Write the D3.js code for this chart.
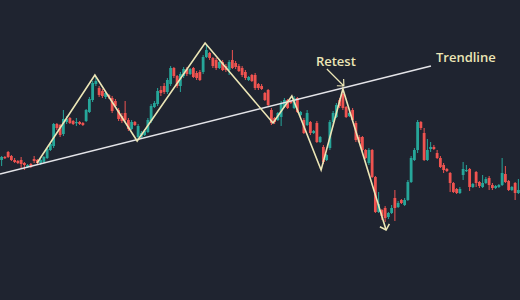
<!DOCTYPE html>
<html>
<head>
<meta charset="utf-8">
<script src="https://cdn.jsdelivr.net/npm/d3@7"></script>
<style>
  html, body { margin: 0; padding: 0; background: #1f2430; }
  svg { display: block; }
</style>
</head>
<body>
<script>
var width = 520, height = 300;

// candle data, one entry per bar
var open = [140,143,148,144,140,139,140,137,133,136, 141,140,137,138,142,150,154,176,175,166,
  178,182,179,177,178,177,179,188,200,216, 212,209,203,205,202,199,190,184,187,180,
  171,178,163,163,165,168,179,193,196,210, 214,208,216,232,224,214,224,231,226,232,
  227,228,228,243,247,242,240,232,238,234, 230,240,237,234,232,228,220,225,225,216,
  214,207,210,190,182,180,183,193,200,199, 192,202,185,180,175,178,167,177,158,153,
  140,152,178,183,200,206,193,184,190,177, 163,163,150,137,150,123,88,90,92,83,
  87,102,93,100,95,100,118,140,150,178, 167,140,151,153,147,142,135,131,127,117,
  111,107,125,129,131,113,128,118,113,117, 122,115,112,113,115,126,119,110,117,107];
var high = [144,144,149,145,142,140,143,138,136,137, 144,141,141,144,152,158,177,177,176,190,
  184,183,180,182,179,178,191,203,219,223, 214,211,208,206,204,201,192,187,199,182,
  180,179,176,169,171,182,196,199,212,214, 217,222,234,233,225,228,233,233,232,233,
  229,230,245,256,248,243,242,240,240,236, 240,250,239,236,234,230,224,226,227,217,
  216,208,211,192,183,188,199,202,201,200, 204,203,189,182,190,179,170,179,164,155,
  146,180,189,197,202,211,194,188,192,179, 165,164,151,152,151,124,108,91,94,88,
  95,110,99,101,102,120,144,152,180,179, 172,161,158,155,150,144,137,132,128,118,
  112,113,138,135,132,117,129,119,125,123, 124,117,115,116,142,134,120,114,118,121];
var low = [134,141,142,139,137,136,132,130,132,132, 137,136,135,137,141,149,152,170,163,164,
  176,176,175,174,175,174,178,187,198,214, 203,202,201,201,187,192,179,177,178,169,
  170,174,161,162,164,167,177,192,194,204, 206,206,214,222,212,208,222,224,225,222,
  220,219,226,242,240,232,230,231,229,228, 225,231,231,228,223,220,219,218,210,210,
  210,199,194,175,176,179,174,192,191,196, 191,187,184,166,174,165,166,157,157,136,
  139,150,176,182,192,190,182,183,179,158, 157,149,141,135,122,87,87,80,78,81,
  86,79,92,96,94,99,117,139,147,170, 139,139,148,150,141,132,127,128,108,107,
  106,106,120,128,109,112,113,112,112,116, 110,110,111,112,114,117,109,109,100,106];
var close = [143,142,143,140,138,137,136,135,135,133, 139,137,140,143,151,156,176,172,165,181,
  181,177,176,178,176,175,190,201,217,219, 205,204,207,203,189,194,181,179,180,171,
  178,175,174,167,169,180,194,197,209,207, 208,220,232,224,214,226,231,226,231,223,
  222,220,243,250,242,234,232,238,230,230, 238,232,233,229,225,222,223,219,212,212,
  211,200,195,177,178,187,197,200,192,197, 202,188,188,167,187,167,169,158,163,138,
  145,178,187,195,194,192,183,187,180,160, 158,150,142,150,123,88,96,84,82,87,
  92,92,97,97,100,118,142,150,178,172, 140,150,153,151,142,133,130,129,117,108,
  107,111,131,130,113,116,117,114,117,121, 115,112,114,115,127,118,110,113,107,110];

// zigzag swing points: bar index, price
var swingIndex = [10.9, 28.7, 41.7, 62.6, 83.5, 89.3, 98.3, 105.0, 118.3];
var swingPrice = [137, 225, 159, 257, 177, 204, 130, 211, 70];

// trendline end points
var trendIndex = [-0.5, 132.1];
var trendPrice = [126, 234];

var retestLabel = "Retest";
var trendLabel = "Trendline";

var n = open.length;

var x = d3.scaleLinear().domain([-0.5, n - 0.5]).range([0, width]);
var y = d3.scaleLinear().domain([0, 300]).range([height, 0]);

var up = "#26a69a", down = "#ef5350";
var drawColor = "#ece6b6";

var svg = d3.select("body").append("svg")
  .attr("width", width)
  .attr("height", height);

svg.append("rect").attr("width", width).attr("height", height).attr("fill", "#1f2430");

var bars = d3.range(n).map(function (i) {
  return { i: i, o: open[i], h: high[i], l: low[i], c: close[i] };
});

var bodyW = (x(1) - x(0)) * 0.86;

var candles = svg.append("g").attr("class", "candles");

candles.selectAll("line")
  .data(bars)
  .enter()
  .append("line")
  .attr("x1", function (d) { return x(d.i); })
  .attr("x2", function (d) { return x(d.i); })
  .attr("y1", function (d) { return y(d.h); })
  .attr("y2", function (d) { return y(d.l); })
  .attr("stroke", function (d) { return d.c >= d.o ? up : down; })
  .attr("stroke-width", 1);

candles.selectAll("rect")
  .data(bars)
  .enter()
  .append("rect")
  .attr("x", function (d) { return x(d.i) - bodyW / 2; })
  .attr("width", bodyW)
  .attr("y", function (d) { return y(Math.max(d.o, d.c)); })
  .attr("height", function (d) { return Math.max(1.2, Math.abs(y(d.o) - y(d.c))); })
  .attr("fill", function (d) { return d.c >= d.o ? up : down; });

// trendline
svg.append("line")
  .attr("x1", x(trendIndex[0])).attr("y1", y(trendPrice[0]))
  .attr("x2", x(trendIndex[1])).attr("y2", y(trendPrice[1]))
  .attr("stroke", "#e4e4e8")
  .attr("stroke-width", 1.5);

// zigzag
var swings = swingIndex.map(function (v, k) { return [x(v), y(swingPrice[k])]; });
svg.append("path")
  .attr("d", d3.line()(swings))
  .attr("fill", "none")
  .attr("stroke", drawColor)
  .attr("stroke-width", 1.6)
  .attr("stroke-linejoin", "miter");

function arrowHead(tip, from, len, spread) {
  var a = Math.atan2(from[1] - tip[1], from[0] - tip[0]);
  var p1 = [tip[0] + len * Math.cos(a - spread), tip[1] + len * Math.sin(a - spread)];
  var p2 = [tip[0] + len * Math.cos(a + spread), tip[1] + len * Math.sin(a + spread)];
  return "M" + p1 + "L" + tip + "L" + p2;
}

var last = swings[swings.length - 1], prev = swings[swings.length - 2];
svg.append("path")
  .attr("d", arrowHead(last, prev, 7, Math.PI / 4))
  .attr("fill", "none")
  .attr("stroke", drawColor)
  .attr("stroke-width", 1.5);

// retest annotation, placed off the retest swing
var retest = swings[7];
var aFrom = [retest[0] - 16, retest[1] - 20], aTo = [retest[0] + 1, retest[1] - 3];
svg.append("path")
  .attr("d", "M" + aFrom + "L" + aTo + arrowHead(aTo, aFrom, 7, 0.75))
  .attr("fill", "none")
  .attr("stroke", drawColor)
  .attr("stroke-width", 1.2);

svg.append("text")
  .attr("x", retest[0] - 7)
  .attr("y", retest[1] - 23)
  .attr("text-anchor", "middle")
  .attr("fill", drawColor)
  .style("font-family", "'Open Sans', sans-serif")
  .style("font-weight", 600)
  .style("font-size", "13px")
  .text(retestLabel);

svg.append("text")
  .attr("x", x(trendIndex[1]) + 5)
  .attr("y", y(trendPrice[1]) - 4)
  .attr("fill", drawColor)
  .style("font-family", "'Open Sans', sans-serif")
  .style("font-weight", 600)
  .style("font-size", "13px")
  .text(trendLabel);
</script>
</body>
</html>
